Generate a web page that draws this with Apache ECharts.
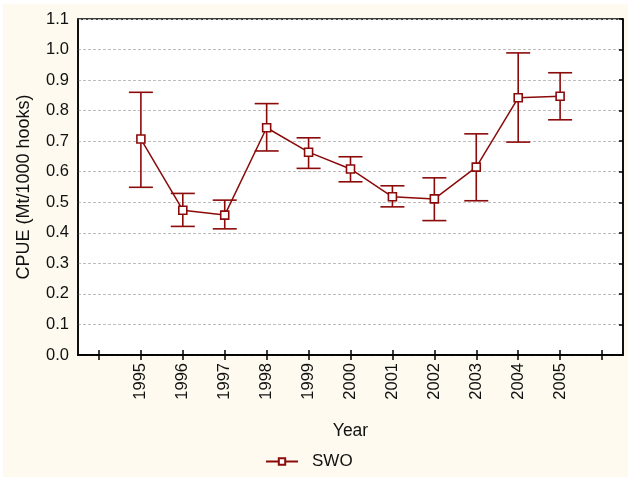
<!DOCTYPE html>
<html>
<head>
<meta charset="utf-8">
<script src="https://cdn.jsdelivr.net/npm/echarts@6/dist/echarts.min.js"></script>
<style>
html,body{margin:0;padding:0;background:#fff;}
#bg{position:absolute;left:3px;top:4px;width:625px;height:473px;background:#fefaef;}
#chart{position:absolute;left:0;top:0;width:628px;height:477px;}
</style>
</head>
<body>
<div id="bg"></div>
<div id="chart"></div>
<script>
const categories = ['', '1995', '1996', '1997', '1998', '1999', '2000', '2001', '2002', '2003', '2004', '2005', ''];
const years = [1, 2, 3, 4, 5, 6, 7, 8, 9, 10, 11];
const meanValues = [0.707, 0.474, 0.458, 0.744, 0.664, 0.609, 0.518, 0.511, 0.615, 0.842, 0.847];
const upperValues = [0.860, 0.529, 0.507, 0.823, 0.711, 0.649, 0.554, 0.580, 0.724, 0.989, 0.924];
const lowerValues = [0.549, 0.421, 0.413, 0.668, 0.611, 0.567, 0.485, 0.440, 0.505, 0.697, 0.770];
const yTicks = ['0.0','0.1','0.2','0.3','0.4','0.5','0.6','0.7','0.8','0.9','1.0','1.1'];

const red = '#8b0a0a';
const font = 'Liberation Sans, Arial, sans-serif';

const chart = echarts.init(document.getElementById('chart'), null, {renderer: 'canvas'});

const lineData = years.map((x, i) => [x, meanValues[i]]);
const errData = years.map((x, i) => [x, lowerValues[i], upperValues[i]]);

chart.setOption({
  animation: false,
  backgroundColor: 'transparent',
  grid: {
    left: 78, top: 19, right: 5, bottom: 122,
    show: true, backgroundColor: '#fff', borderColor: '#000', borderWidth: 1.5
  },
  legend: {
    top: 448, left: 260,
    itemWidth: 32, itemHeight: 8,
    textStyle: {fontFamily: font, fontSize: 17, color: '#111', padding: [0, 0, 0, 9]},
    data: ['SWO']
  },
  xAxis: [{
    type: 'category',
    data: categories,
    boundaryGap: true,
    position: 'bottom',
    name: 'Year',
    nameLocation: 'middle',
    nameGap: 67,
    nameTextStyle: {fontFamily: font, fontSize: 17.5, color: '#111'},
    axisLine: {show: true, lineStyle: {color: '#000', width: 1.5}},
    axisTick: {show: true, inside: true, alignWithLabel: true, interval: 0, length: 5, lineStyle: {color: '#000', width: 1.5}},
    axisLabel: {interval: 0, rotate: 90, margin: 8, fontFamily: font, fontSize: 16.5, color: '#111'},
    splitLine: {show: false}
  }, {
    type: 'category',
    data: categories,
    boundaryGap: true,
    position: 'top',
    axisLine: {show: true, lineStyle: {color: '#000', width: 1.5}},
    axisTick: {show: true, inside: true, alignWithLabel: true, interval: 0, length: 5, lineStyle: {color: '#000', width: 1.5}},
    axisLabel: {show: false},
    splitLine: {show: false}
  }],
  yAxis: [{
    type: 'value',
    min: 0, max: 1.1, interval: 0.1,
    position: 'left',
    name: 'CPUE (Mt/1000 hooks)',
    nameLocation: 'middle',
    nameGap: 45,
    nameTextStyle: {fontFamily: font, fontSize: 18, color: '#111'},
    axisLine: {show: true, lineStyle: {color: '#000', width: 1.5}},
    axisTick: {show: false},
    axisLabel: {
      margin: 9, fontFamily: font, fontSize: 16.5, color: '#111',
      formatter: (v) => yTicks[Math.round(v * 10)]
    },
    splitLine: {show: true, lineStyle: {color: '#bdbdbd', type: [3, 2], width: 1}}
  }, {
    type: 'value',
    min: 0, max: 1.1, interval: 0.1,
    position: 'right',
    axisLine: {show: true, lineStyle: {color: '#000', width: 1.5}},
    axisTick: {show: true, inside: true, length: 4, lineStyle: {color: '#000', width: 1.5}},
    axisLabel: {show: false},
    splitLine: {show: false}
  }],
  series: [{
    name: 'SWO-err',
    type: 'custom',
    xAxisIndex: 0, yAxisIndex: 0,
    data: errData,
    z: 2,
    renderItem: function (params, api) {
      const x = api.value(0);
      const lo = api.coord([x, api.value(1)]);
      const hi = api.coord([x, api.value(2)]);
      const hw = 12;
      const style = {stroke: red, lineWidth: 1.6, fill: null};
      return {
        type: 'group',
        children: [
          {type: 'line', shape: {x1: lo[0], y1: lo[1], x2: hi[0], y2: hi[1]}, style: style},
          {type: 'line', shape: {x1: lo[0] - hw, y1: lo[1], x2: lo[0] + hw, y2: lo[1]}, style: style},
          {type: 'line', shape: {x1: hi[0] - hw, y1: hi[1], x2: hi[0] + hw, y2: hi[1]}, style: style}
        ]
      };
    }
  }, {
    name: 'SWO',
    type: 'line',
    xAxisIndex: 0, yAxisIndex: 0,
    data: lineData,
    z: 3,
    symbol: 'rect',
    symbolSize: 8,
    lineStyle: {color: red, width: 1.5},
    itemStyle: {color: '#fff', borderColor: red, borderWidth: 1.6}
  }]
});
</script>
</body>
</html>
